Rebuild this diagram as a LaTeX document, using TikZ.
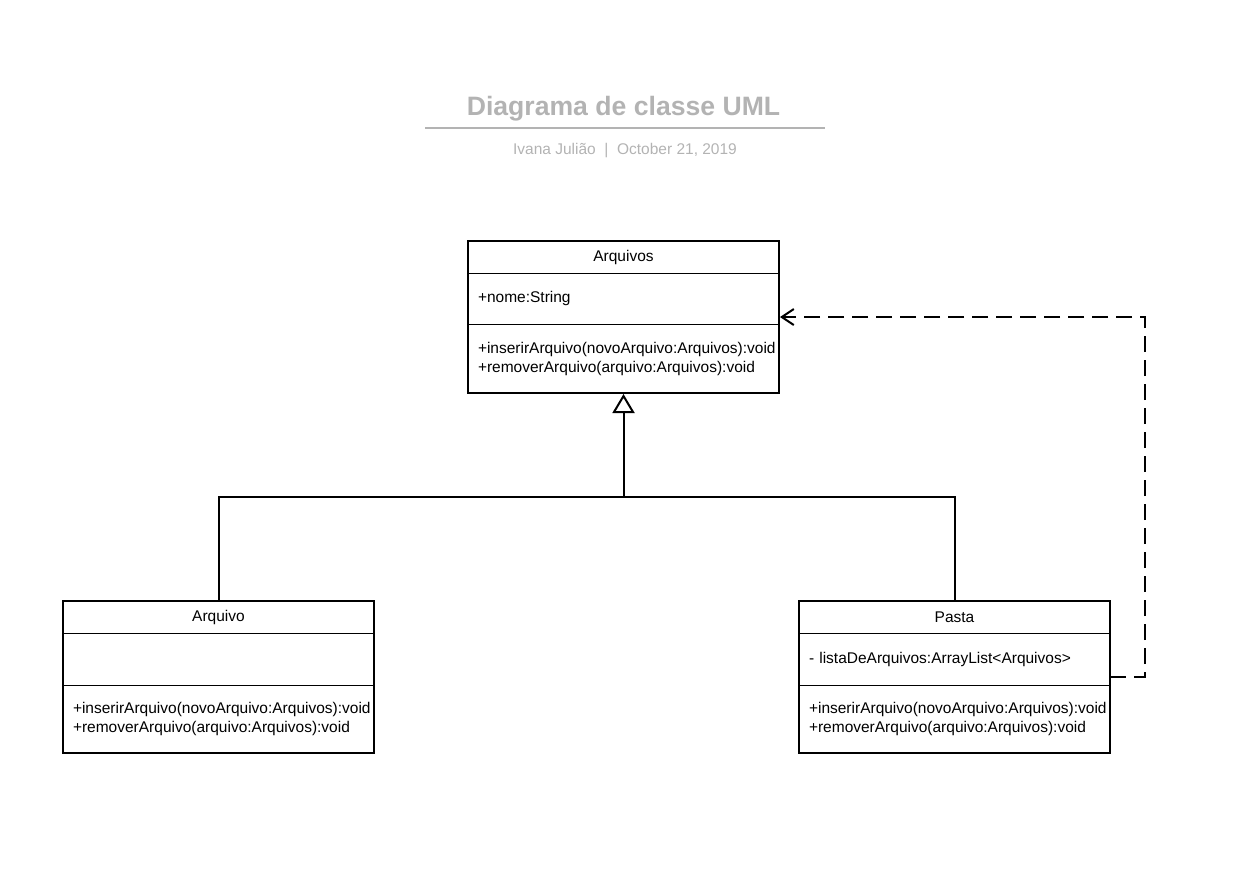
\documentclass[tikz,border=0pt]{standalone}
\usepackage{fontspec}
\setmainfont{Liberation Sans}
\usepackage{xcolor}
\usetikzlibrary{positioning, calc, arrows.meta}
\definecolor{titlegray}{HTML}{B3B3B3}

\tikzset{
  classhead/.style={draw, line width=1pt, outer sep=0pt, inner sep=0pt, minimum width=311pt, minimum height=32pt, align=center, font=\fontsize{15.5}{19}\selectfont},
  classattr/.style={draw, line width=1pt, outer sep=0pt, inner xsep=10pt, inner ysep=0pt, text width=291pt, minimum height=51pt, align=left, font=\fontsize{15.5}{19}\selectfont},
  classops/.style={classattr, minimum height=69pt},
  classframe/.style={line width=2pt},
  inherit/.style={line width=2pt, -{Triangle[open, length=19pt, width=22pt, line width=2pt]}},
  depend/.style={line width=2pt, dash pattern=on 16pt off 8pt, -{Straight Barb[length=12pt, width=16pt, line width=2pt]}}
}

\begin{document}
\begin{tikzpicture}[x=1pt, y=-1pt]
  \useasboundingbox (0,0) rectangle (1237,895);
  % titulo
  \node[text=titlegray, font=\fontsize{26.6}{30}\selectfont\bfseries] (title) at (623.5,109) {Diagrama de classe UML};
  \coordinate (tl) at (425,128);
  \coordinate (tr) at (825,128);
  \draw[titlegray, line width=2pt] (tl) -- (tr);
  \node[text=titlegray, font=\fontsize{15.5}{18}\selectfont] (sub) at (625,150.5) {Ivana Julião \ {}|\ {} October 21, 2019};

  % Arquivos
  \node[classhead] (arqs) at (623.5,257) {Arquivos};
  \node[classattr, below=0pt of arqs] (arqs-attr) {+nome:String};
  \node[classops, below=0pt of arqs-attr] (arqs-ops) {+inserirArquivo(novoArquivo:Arquivos):void\\+removerArquivo(arquivo:Arquivos):void};
  \draw[classframe] (arqs.north west) rectangle (arqs-ops.south east);

  % Arquivo
  \node[classhead] (arq) at (218.5,617) {Arquivo};
  \node[classattr, below=0pt of arq, minimum height=52pt] (arq-attr) {};
  \node[classops, below=0pt of arq-attr, minimum height=68pt] (arq-ops) {+inserirArquivo(novoArquivo:Arquivos):void\\+removerArquivo(arquivo:Arquivos):void};
  \draw[classframe] (arq.north west) rectangle (arq-ops.south east);

  % Pasta
  \node[classhead] (pasta) at (954.5,617) {Pasta};
  \node[classattr, below=0pt of pasta, minimum height=52pt] (pasta-attr) {- listaDeArquivos:ArrayList<Arquivos>};
  \node[classops, below=0pt of pasta-attr, minimum height=68pt] (pasta-ops) {+inserirArquivo(novoArquivo:Arquivos):void\\+removerArquivo(arquivo:Arquivos):void};
  \draw[classframe] (pasta.north west) rectangle (pasta-ops.south east);

  % heranca
  \coordinate (fork) at (623.5,497);
  \draw[line width=2pt] (arq.north) |- (fork);
  \draw[line width=2pt] (pasta.north) |- (fork);
  \draw[inherit] (fork) -- ([yshift=-1pt]arqs-ops.south);

  % dependencia
  \coordinate (dstart) at ([yshift=8pt]pasta-attr.south east);
  \coordinate (dend) at ([yshift=7pt, xshift=1pt]arqs-attr.south east);
  \coordinate (rail) at (1145,0);
  \draw[depend] (dstart) -| (rail |- dend) -- (dend);
\end{tikzpicture}
\end{document}
